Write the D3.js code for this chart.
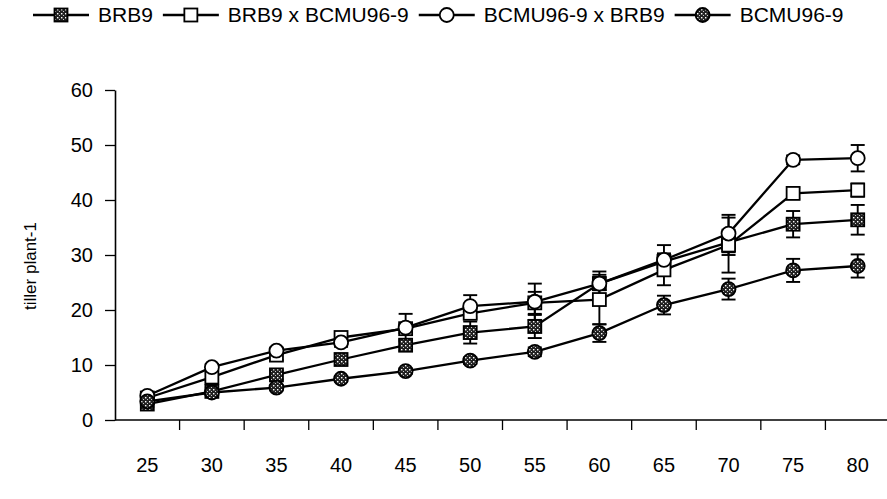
<!DOCTYPE html>
<html>
<head>
<meta charset="utf-8">
<script src="https://cdn.jsdelivr.net/npm/d3@7/dist/d3.min.js"></script>
<style>
  body { margin: 0; background: #fff; }
  svg { display: block; font-family: 'Liberation Sans', Arial, sans-serif; }
</style>
</head>
<body>
<svg id="chart" width="887" height="499"></svg>
<script>
var days = [25, 30, 35, 40, 45, 50, 55, 60, 65, 70, 75, 80];
var yTicks = [0, 10, 20, 30, 40, 50, 60];

var brb9 = [2.9, 5.2, 8.2, 11.0, 13.6, 15.9, 17.0, 24.8, 28.8, 32.3, 35.6, 36.4];
var brb9Err = [0.5, 0.6, 0.8, 0.8, 1.0, 2.0, 2.1, 1.2, 1.5, 2.3, 2.4, 2.7];

var brb9xBcmu = [4.0, 7.8, 11.8, 15.0, 16.6, 19.4, 21.3, 21.9, 27.3, 31.8, 41.2, 41.8];
var brb9xBcmuErr = [0.4, 0.8, 0.9, 0.6, 0.8, 1.0, 2.0, 4.5, 2.8, 5.0, 1.0, 1.2];

var bcmuxBrb9 = [4.4, 9.6, 12.6, 14.1, 16.8, 20.7, 21.5, 24.8, 29.1, 33.9, 47.3, 47.6];
var bcmuxBrb9Err = [0.5, 0.6, 0.6, 0.8, 2.5, 2.0, 3.3, 2.2, 2.7, 3.4, 0.8, 2.4];

var bcmu = [3.4, 5.0, 5.9, 7.5, 8.9, 10.8, 12.4, 15.8, 20.9, 23.8, 27.2, 28.0];
var bcmuErr = [0.3, 0.4, 0.5, 0.5, 0.5, 0.6, 0.8, 1.6, 1.7, 1.9, 2.1, 2.1];

var seriesNames = ['BRB9', 'BRB9 x BCMU96-9', 'BCMU96-9 x BRB9', 'BCMU96-9'];

(function draw() {

  var svg = d3.select('#chart'),
      left = 115, right = 890, top = 90, bottom = 420;

  var series = [
    { name: seriesNames[0], values: brb9, err: brb9Err, shape: 'square', fill: 'url(#hatch)' },
    { name: seriesNames[1], values: brb9xBcmu, err: brb9xBcmuErr, shape: 'square', fill: '#fff' },
    { name: seriesNames[2], values: bcmuxBrb9, err: bcmuxBrb9Err, shape: 'circle', fill: '#fff' },
    { name: seriesNames[3], values: bcmu, err: bcmuErr, shape: 'circle', fill: 'url(#hatch)' }
  ];

  // speckled fill for the dark markers
  var pat = svg.append('defs').append('pattern')
      .attr('id', 'hatch')
      .attr('patternUnits', 'userSpaceOnUse')
      .attr('width', 4)
      .attr('height', 4);
  pat.append('rect').attr('width', 4).attr('height', 4).attr('fill', '#222');
  pat.append('rect').attr('x', 1).attr('y', 1).attr('width', 1.4).attr('height', 1.4).attr('fill', '#fff');
  pat.append('rect').attr('x', 3).attr('y', 3).attr('width', 1).attr('height', 1).attr('fill', '#ccc');

  var x = d3.scaleBand().domain(days).range([left, right]);
  var y = d3.scaleLinear().domain([0, 60]).range([bottom, top]);
  var cx = function(i) { return x(days[i]) + x.bandwidth() / 2; };

  // y axis
  var gy = svg.append('g')
      .attr('transform', 'translate(' + left + ',0)')
      .call(d3.axisLeft(y).tickValues(yTicks).tickSize(10).tickPadding(12).tickSizeOuter(0));
  gy.select('.domain').attr('stroke', '#000').attr('stroke-width', 1.6);
  gy.selectAll('.tick line').attr('stroke', '#000').attr('stroke-width', 1.3);
  gy.selectAll('.tick text').attr('font-size', 20).attr('fill', '#000');

  // x axis: ticks between categories, labels in band centres lower down
  svg.append('line')
      .attr('x1', left).attr('x2', 887)
      .attr('y1', y(0)).attr('y2', y(0))
      .attr('stroke', '#000').attr('stroke-width', 1.6);

  svg.append('g').selectAll('line')
    .data(days.slice(1))
    .enter().append('line')
      .attr('x1', function(d) { return x(d); })
      .attr('x2', function(d) { return x(d); })
      .attr('y1', y(0)).attr('y2', y(0) + 10)
      .attr('stroke', '#000').attr('stroke-width', 1.3);

  svg.append('g').selectAll('text')
    .data(days)
    .enter().append('text')
      .attr('x', function(d) { return x(d) + x.bandwidth() / 2; })
      .attr('y', 472)
      .attr('text-anchor', 'middle')
      .attr('font-size', 20)
      .text(function(d) { return d; });

  svg.append('text')
      .attr('transform', 'translate(36,' + y(28) + ') rotate(-90)')
      .attr('text-anchor', 'middle')
      .attr('font-size', 17)
      .text('tiller plant-1');

  // error bars
  var capW = 7;
  series.forEach(function(s) {
    var g = svg.append('g').attr('stroke', '#000').attr('stroke-width', 1.9);
    s.values.forEach(function(v, i) {
      var lo = y(v - s.err[i]), hi = y(v + s.err[i]);
      g.append('line').attr('x1', cx(i)).attr('x2', cx(i)).attr('y1', lo).attr('y2', hi);
      g.append('line').attr('x1', cx(i) - capW).attr('x2', cx(i) + capW).attr('y1', lo).attr('y2', lo);
      g.append('line').attr('x1', cx(i) - capW).attr('x2', cx(i) + capW).attr('y1', hi).attr('y2', hi);
    });
  });

  // lines
  var line = d3.line()
      .x(function(d, i) { return cx(i); })
      .y(function(d) { return y(d); });

  series.forEach(function(s) {
    svg.append('path')
        .datum(s.values)
        .attr('d', line)
        .attr('fill', 'none')
        .attr('stroke', '#000')
        .attr('stroke-width', 2.3);
  });

  function marker(g, s, px, py) {
    if (s.shape === 'square') {
      g.append('rect')
          .attr('x', px - 6.5).attr('y', py - 6.5)
          .attr('width', 13).attr('height', 13)
          .attr('fill', s.fill).attr('stroke', '#000').attr('stroke-width', 1.8);
    } else {
      g.append('circle')
          .attr('cx', px).attr('cy', py).attr('r', 7)
          .attr('fill', s.fill).attr('stroke', '#000').attr('stroke-width', 1.8);
    }
  }

  series.forEach(function(s) {
    var g = svg.append('g');
    s.values.forEach(function(v, i) { marker(g, s, cx(i), y(v)); });
  });

  // legend
  var lx = 33, ly = 15;
  series.forEach(function(s) {
    var g = svg.append('g');
    g.append('line')
        .attr('x1', lx).attr('x2', lx + 56)
        .attr('y1', ly).attr('y2', ly)
        .attr('stroke', '#000').attr('stroke-width', 2.3);
    marker(g, s, lx + 28, ly);
    var t = g.append('text')
        .attr('x', lx + 65)
        .attr('y', ly + 7)
        .attr('font-size', 21)
        .text(s.name);
    lx = lx + 65 + t.node().getComputedTextLength() + 10;
  });
})();
</script>
</body>
</html>
